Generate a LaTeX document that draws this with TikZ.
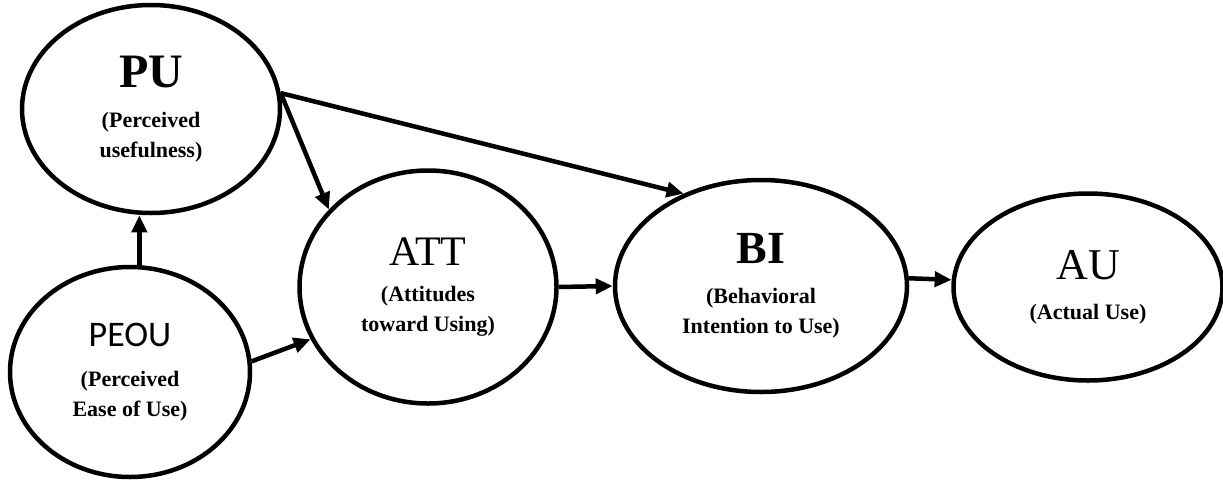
\documentclass[tikz,border=0pt]{standalone}
\usepackage{fontspec}
\setmainfont{Liberation Serif}
\newfontfamily\calibrifont{Carlito}
\usepackage{tikz}
\usetikzlibrary{shapes.geometric,arrows.meta}
\colorlet{linecolor}{black}
\newcommand{\ttl}[2]{% construct title
{\fontsize{#1}{#1}\selectfont #2}}
\tikzstyle{construct} = [
    draw=linecolor,
    line width=4.5pt,
    ellipse,
    align=center,
    inner sep=0pt,
    font=\fontsize{22}{30}\selectfont\bfseries
    ]
\tikzstyle{link} = [
    draw=linecolor,
    line width=4.5pt,
    -{Triangle[length=17pt,width=15pt]}
    ]

\begin{document}
\begin{tikzpicture}[x=1pt,y=-1pt]
\useasboundingbox (0,0) rectangle (1223,482);

\node [construct, minimum width=258pt, minimum height=208pt] (PU) at (151,109)
    {\ttl{48}{\bfseries PU}\\[10pt](Perceived\\usefulness)};
\node [construct, minimum width=240pt, minimum height=210pt] (PEOU) at (130,372)
    {\ttl{36}{\calibrifont\mdseries PEOU}\\[10pt](Perceived\\Ease of Use)};
\node [construct, minimum width=257pt, minimum height=233pt] (ATT) at (428,287)
    {\ttl{42}{\mdseries ATT}\\[6pt](Attitudes\\toward Using)};
\node [construct, minimum width=292pt, minimum height=212pt] (BI) at (761,286)
    {\ttl{46}{\bfseries BI}\\[10pt](Behavioral\\Intention to Use)};
\node [construct, minimum width=269pt, minimum height=187pt] (AU) at (1088,287)
    {\ttl{44}{\mdseries AU}\\[10pt](Actual Use)};

\draw [link] (PEOU.85 |- PEOU.north) -- (PEOU.85 |- PU.south);
\draw [link] (PEOU.5) -- (ATT.204);
\draw [link] (PU.7) -- (ATT.142);
\draw [link] (PU.7) -- (BI.130);
\draw [link] (ATT.east) -- (BI.west);
\draw [link] (BI.3) -- (AU.177);
\end{tikzpicture}
\end{document}
